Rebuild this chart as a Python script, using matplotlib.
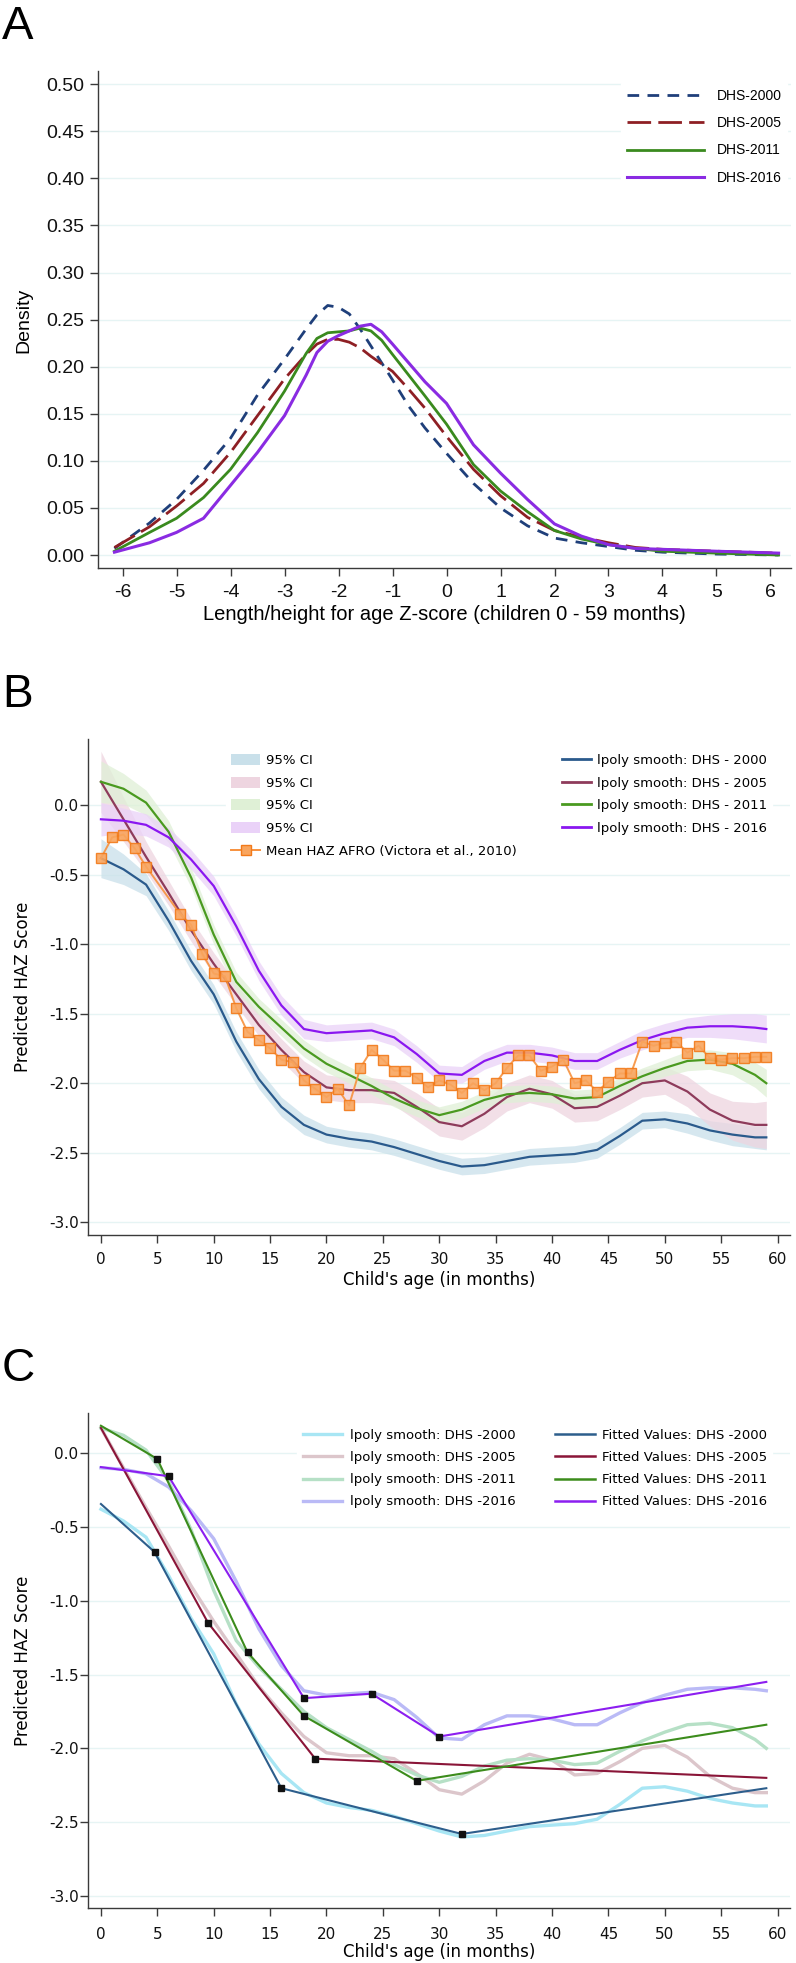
import numpy as np
import matplotlib.pyplot as plt
from matplotlib.patches import Patch
from matplotlib.lines import Line2D

plt.rcParams['axes.unicode_minus'] = False

# ---------------- Panel A : kernel density of HAZ by survey
z = [-6.15, -5.5, -5.0, -4.5, -4.0, -3.5, -3.0, -2.6, -2.4, -2.2, -2.0, -1.8, -1.6, -1.4,
     -1.2, -1.0, -0.7, -0.4, 0.0, 0.5, 1.0, 1.5, 2.0, 2.5, 3.0, 3.5, 4.0, 5.0, 6.15]
dens_2000 = [0.007, 0.034, 0.059, 0.090, 0.124, 0.170, 0.208, 0.240, 0.255, 0.265, 0.263, 0.256, 0.240, 0.222,
             0.204, 0.186, 0.158, 0.135, 0.108, 0.076, 0.050, 0.031, 0.018, 0.013, 0.009, 0.005, 0.003, 0.001, 0.0]
dens_2005 = [0.008, 0.030, 0.052, 0.076, 0.109, 0.148, 0.187, 0.213, 0.224, 0.229, 0.229, 0.226, 0.220, 0.211,
             0.203, 0.195, 0.176, 0.156, 0.126, 0.091, 0.063, 0.040, 0.026, 0.019, 0.013, 0.008, 0.006, 0.004, 0.002]
dens_2011 = [0.004, 0.024, 0.039, 0.061, 0.091, 0.130, 0.174, 0.214, 0.230, 0.236, 0.237, 0.238, 0.241, 0.238,
             0.228, 0.213, 0.191, 0.169, 0.139, 0.096, 0.068, 0.046, 0.026, 0.017, 0.011, 0.007, 0.004, 0.002, 0.0]
dens_2016 = [0.003, 0.013, 0.024, 0.039, 0.074, 0.109, 0.148, 0.191, 0.215, 0.227, 0.233, 0.238, 0.243, 0.245,
             0.237, 0.224, 0.204, 0.184, 0.161, 0.117, 0.087, 0.059, 0.033, 0.020, 0.011, 0.007, 0.006, 0.004, 0.002]

# ---------------- Panel B : lpoly smooth of HAZ by age
age = [0, 2, 4, 6, 8, 10, 12, 14, 16, 18, 20, 22, 24, 26, 28, 30, 32, 34, 36, 38, 40,
       42, 44, 46, 48, 50, 52, 54, 56, 58, 59]
haz_2000 = [-0.38, -0.46, -0.57, -0.83, -1.12, -1.36, -1.70, -1.97, -2.17, -2.30, -2.37, -2.40, -2.42, -2.46,
            -2.51, -2.56, -2.60, -2.59, -2.56, -2.53, -2.52, -2.51, -2.48, -2.38, -2.27, -2.26, -2.29, -2.34,
            -2.37, -2.39, -2.39]
haz_2005 = [0.17, -0.10, -0.37, -0.63, -0.90, -1.14, -1.36, -1.58, -1.76, -1.92, -2.03, -2.05, -2.05, -2.07,
            -2.17, -2.28, -2.31, -2.22, -2.10, -2.04, -2.08, -2.18, -2.17, -2.09, -2.00, -1.98, -2.06, -2.19,
            -2.27, -2.30, -2.30]
haz_2011 = [0.17, 0.12, 0.02, -0.19, -0.52, -0.93, -1.27, -1.45, -1.60, -1.75, -1.86, -1.94, -2.02, -2.11,
            -2.18, -2.23, -2.19, -2.12, -2.08, -2.07, -2.08, -2.11, -2.10, -2.02, -1.95, -1.89, -1.84, -1.83,
            -1.86, -1.94, -2.00]
haz_2016 = [-0.10, -0.11, -0.14, -0.23, -0.39, -0.58, -0.87, -1.19, -1.44, -1.61, -1.64, -1.63, -1.62, -1.67,
            -1.79, -1.93, -1.94, -1.84, -1.78, -1.78, -1.80, -1.84, -1.84, -1.76, -1.69, -1.64, -1.60, -1.59,
            -1.59, -1.60, -1.61]
# half width of 95% CI
ci_2000 = [0.14, 0.11, 0.08, 0.07, 0.07, 0.07, 0.07, 0.07, 0.07, 0.07, 0.06, 0.06, 0.06, 0.06, 0.06, 0.06,
           0.06, 0.06, 0.06, 0.06, 0.06, 0.06, 0.06, 0.06, 0.06, 0.06, 0.07, 0.07, 0.08, 0.08, 0.09]
ci_2005 = [0.22, 0.16, 0.11, 0.09, 0.08, 0.08, 0.08, 0.08, 0.08, 0.08, 0.09, 0.09, 0.09, 0.09, 0.10, 0.10,
           0.10, 0.10, 0.10, 0.10, 0.10, 0.10, 0.10, 0.10, 0.10, 0.10, 0.11, 0.12, 0.14, 0.16, 0.17]
ci_2011 = [0.15, 0.11, 0.09, 0.08, 0.07, 0.07, 0.07, 0.06, 0.06, 0.06, 0.06, 0.06, 0.06, 0.06, 0.06, 0.06,
           0.06, 0.06, 0.06, 0.06, 0.06, 0.06, 0.06, 0.06, 0.06, 0.06, 0.07, 0.07, 0.08, 0.09, 0.10]
ci_2016 = [0.12, 0.09, 0.08, 0.07, 0.07, 0.07, 0.07, 0.07, 0.07, 0.07, 0.06, 0.06, 0.06, 0.06, 0.06, 0.06,
           0.06, 0.06, 0.06, 0.06, 0.06, 0.06, 0.06, 0.06, 0.07, 0.07, 0.07, 0.08, 0.09, 0.10, 0.10]
# Mean HAZ AFRO (Victora et al., 2010), months 5-6 not shown
afro_age = [0, 1, 2, 3, 4, 7, 8, 9, 10, 11, 12, 13, 14, 15, 16, 17, 18, 19, 20, 21, 22, 23, 24, 25, 26, 27,
            28, 29, 30, 31, 32, 33, 34, 35, 36, 37, 38, 39, 40, 41, 42, 43, 44, 45, 46, 47, 48, 49, 50, 51,
            52, 53, 54, 55, 56, 57, 58, 59]
afro_haz = [-0.38, -0.23, -0.21, -0.31, -0.44, -0.78, -0.86, -1.07, -1.21, -1.23, -1.46, -1.63, -1.69, -1.75,
            -1.83, -1.85, -1.98, -2.04, -2.10, -2.04, -2.16, -1.89, -1.76, -1.83, -1.91, -1.91, -1.96, -2.03,
            -1.98, -2.01, -2.07, -2.00, -2.05, -2.00, -1.89, -1.80, -1.80, -1.91, -1.88, -1.83, -2.00, -1.98,
            -2.06, -1.99, -1.93, -1.93, -1.70, -1.73, -1.71, -1.70, -1.78, -1.73, -1.82, -1.83, -1.82, -1.82,
            -1.81, -1.81]

# ---------------- Panel C : piecewise linear fits (knots)
fit_age_2000 = [0, 4.75, 16, 32, 59]
fit_haz_2000 = [-0.345, -0.67, -2.27, -2.58, -2.27]
fit_age_2005 = [0, 9.5, 19, 59]
fit_haz_2005 = [0.17, -1.15, -2.07, -2.20]
fit_age_2011 = [0, 5, 13, 18, 28, 59]
fit_haz_2011 = [0.185, -0.04, -1.35, -1.78, -2.22, -1.84]
fit_age_2016 = [0, 6, 18, 24, 30, 59]
fit_haz_2016 = [-0.095, -0.157, -1.66, -1.63, -1.92, -1.55]

W, H = 796, 1963
fig = plt.figure(figsize=(W / 100, H / 100), dpi=100)


def px_axes(l, t, r, b):
    return fig.add_axes([l / W, 1 - b / H, (r - l) / W, (b - t) / H])


def style(ax, font, size, ypad, xpad):
    for s in ['top', 'right']:
        ax.spines[s].set_visible(False)
    for s in ['left', 'bottom']:
        ax.spines[s].set_color('#3a3a3a')
        ax.spines[s].set_linewidth(1.0)
    ax.tick_params(direction='out', length=5.5, width=1.0, color='#3a3a3a', labelsize=size)
    ax.tick_params(axis='y', pad=ypad)
    ax.tick_params(axis='x', pad=xpad)
    for lab in ax.get_xticklabels() + ax.get_yticklabels():
        lab.set_fontfamily(font)
        lab.set_color('#111111')
    ax.yaxis.grid(True, color='#e6f4f4', lw=1.0)
    ax.set_axisbelow(True)


grid_col = '#e6f4f4'

# ================= A
axA = px_axes(97.7, 71, 791, 568)
axA.plot(z, dens_2000, color='#1f3f7a', lw=2, dashes=(4.2, 3.0), label='DHS-2000')
axA.plot(z, dens_2005, color='#8e1f24', lw=2, dashes=(8.5, 2.6), label='DHS-2005')
axA.plot(z, dens_2011, color='#3a8a1e', lw=2, label='DHS-2011')
axA.plot(z, dens_2016, color='#8a2be2', lw=2.2, label='DHS-2016')
axA.set_xlim(-6.46, 6.38)
axA.set_ylim(-0.0138, 0.514)
axA.set_xticks(range(-6, 7))
axA.set_yticks(np.arange(0, 0.51, 0.05))
axA.set_yticklabels(['%.2f' % v for v in np.arange(0, 0.51, 0.05)])
style(axA, 'Liberation Sans', 14, 4.0, 6.0)
legA = axA.legend(loc='upper left', bbox_to_anchor=(0.755, 0.975), frameon=True, fancybox=False,
                  edgecolor='white', facecolor='white', framealpha=1, handlelength=5.6, handletextpad=0.86,
                  labelspacing=0.95, borderaxespad=0, prop={'family': 'Liberation Sans', 'size': 10})
fig.text(24 / W, 1 - 320 / H, 'Density', rotation=90, ha='center', va='center',
         family='Liberation Sans', fontsize=14)
fig.text(444 / W, 1 - 614 / H, 'Length/height for age Z-score (children 0 - 59 months)', ha='center',
         va='center', family='Liberation Sans', fontsize=14.5)
fig.text(2 / W, 1 - 39 / H, 'A', ha='left', va='baseline', family='Liberation Sans', fontsize=34)

# ================= B
yt = np.arange(-3.0, 0.01, 0.5)
axB = px_axes(88.3, 738.6, 790, 1234.6)
ci_cols = ['#c9e0ea', '#eed5e0', '#dff0d6', '#ead2f8']
line_cols = ['#2a5a8c', '#8e3b5b', '#4a9a20', '#8a17f0']
series = [haz_2000, haz_2005, haz_2011, haz_2016]
cis = [ci_2000, ci_2005, ci_2011, ci_2016]
for h, c, fc in zip(series, cis, ci_cols):
    h = np.array(h)
    c = np.array(c)
    axB.fill_between(age, h - c, h + c, color=fc, alpha=0.75, lw=0)
for h, lc in zip(series, line_cols):
    axB.plot(age, h, color=lc, lw=1.6)
axB.plot(afro_age, afro_haz, color='#f7913d', lw=1.4, marker='s', ms=7.5, mfc='#f9a55e',
         mec='#f27a1a', mew=1.0, alpha=0.9)
axB.set_xlim(-1.12, 61.1)
axB.set_ylim(-3.09, 0.481)
axB.set_xticks(range(0, 61, 5))
axB.set_yticks(yt)
axB.set_yticklabels(['%.1f' % v for v in yt])
style(axB, 'DejaVu Sans', 11, 1.5, 7.0)
handlesB = [Patch(facecolor=fc, edgecolor='none') for fc in ci_cols]
handlesB.append(Line2D([], [], color='#f7913d', lw=1.4, marker='s', ms=7.5, mfc='#f9a55e', mec='#f27a1a'))
handlesB += [Line2D([], [], color=lc, lw=2) for lc in line_cols]
labelsB = ['95% CI'] * 4 + ['Mean HAZ AFRO (Victora et al., 2010)'] + \
          ['lpoly smooth: DHS - 2000', 'lpoly smooth: DHS - 2005', 'lpoly smooth: DHS - 2011',
           'lpoly smooth: DHS - 2016']
axB.legend(handlesB, labelsB, ncol=2, loc='upper left', bbox_to_anchor=(0.196, 0.98), frameon=True,
           fancybox=False, edgecolor='white', facecolor='white', framealpha=1, handlelength=2.2,
           handleheight=0.9, handletextpad=0.45, labelspacing=0.74, columnspacing=3.4, borderaxespad=0,
           prop={'family': 'DejaVu Sans', 'size': 9.5})
fig.text(23.5 / W, 1 - 986.6 / H, 'Predicted HAZ Score', rotation=90, ha='center', va='center',
         family='DejaVu Sans', fontsize=12)
fig.text(439 / W, 1 - 1280 / H, "Child's age (in months)", ha='center', va='center',
         family='DejaVu Sans', fontsize=12)
fig.text(2 / W, 1 - 707 / H, 'B', ha='left', va='baseline', family='Liberation Sans', fontsize=33)

# ================= C
axC = px_axes(88.3, 1412.6, 790, 1908.4)
light_cols = ['#a8e6f4', '#dcc6cb', '#b6e0c6', '#babaf6']
fit_cols = ['#2d5e8c', '#8a1538', '#3c8c1c', '#8c1ef0']
fits = [(fit_age_2000, fit_haz_2000), (fit_age_2005, fit_haz_2005),
        (fit_age_2011, fit_haz_2011), (fit_age_2016, fit_haz_2016)]
for h, lc in zip(series, light_cols):
    axC.plot(age, h, color=lc, lw=2.4)
for (fa, fh), fc in zip(fits, fit_cols):
    axC.plot(fa, fh, color=fc, lw=1.5)
for (fa, fh) in fits:
    axC.plot(fa[1:-1], fh[1:-1], ls='none', marker='s', ms=5, color='#111111')
axC.set_xlim(-1.12, 61.1)
axC.set_ylim(-3.084, 0.274)
axC.set_xticks(range(0, 61, 5))
axC.set_yticks(yt)
axC.set_yticklabels(['%.1f' % v for v in yt])
style(axC, 'DejaVu Sans', 11, 1.5, 8.0)
yrs = ['2000', '2005', '2011', '2016']
handlesC = [Line2D([], [], color=c, lw=2.4) for c in light_cols] + \
           [Line2D([], [], color=c, lw=1.8) for c in fit_cols]
labelsC = ['lpoly smooth: DHS -' + y for y in yrs] + ['Fitted Values: DHS -' + y for y in yrs]
axC.legend(handlesC, labelsC, ncol=2, loc='upper left', bbox_to_anchor=(0.298, 0.978), frameon=True,
           fancybox=False, edgecolor='white', facecolor='white', framealpha=1, handlelength=3.0,
           handletextpad=0.55, labelspacing=0.7, columnspacing=3.0, borderaxespad=0,
           prop={'family': 'DejaVu Sans', 'size': 9.5})
fig.text(23.5 / W, 1 - 1661 / H, 'Predicted HAZ Score', rotation=90, ha='center', va='center',
         family='DejaVu Sans', fontsize=12)
fig.text(439 / W, 1 - 1952 / H, "Child's age (in months)", ha='center', va='center',
         family='DejaVu Sans', fontsize=12)
fig.text(2 / W, 1 - 1381 / H, 'C', ha='left', va='baseline', family='Liberation Sans', fontsize=33)

fig.savefig('out.png', dpi=100)
